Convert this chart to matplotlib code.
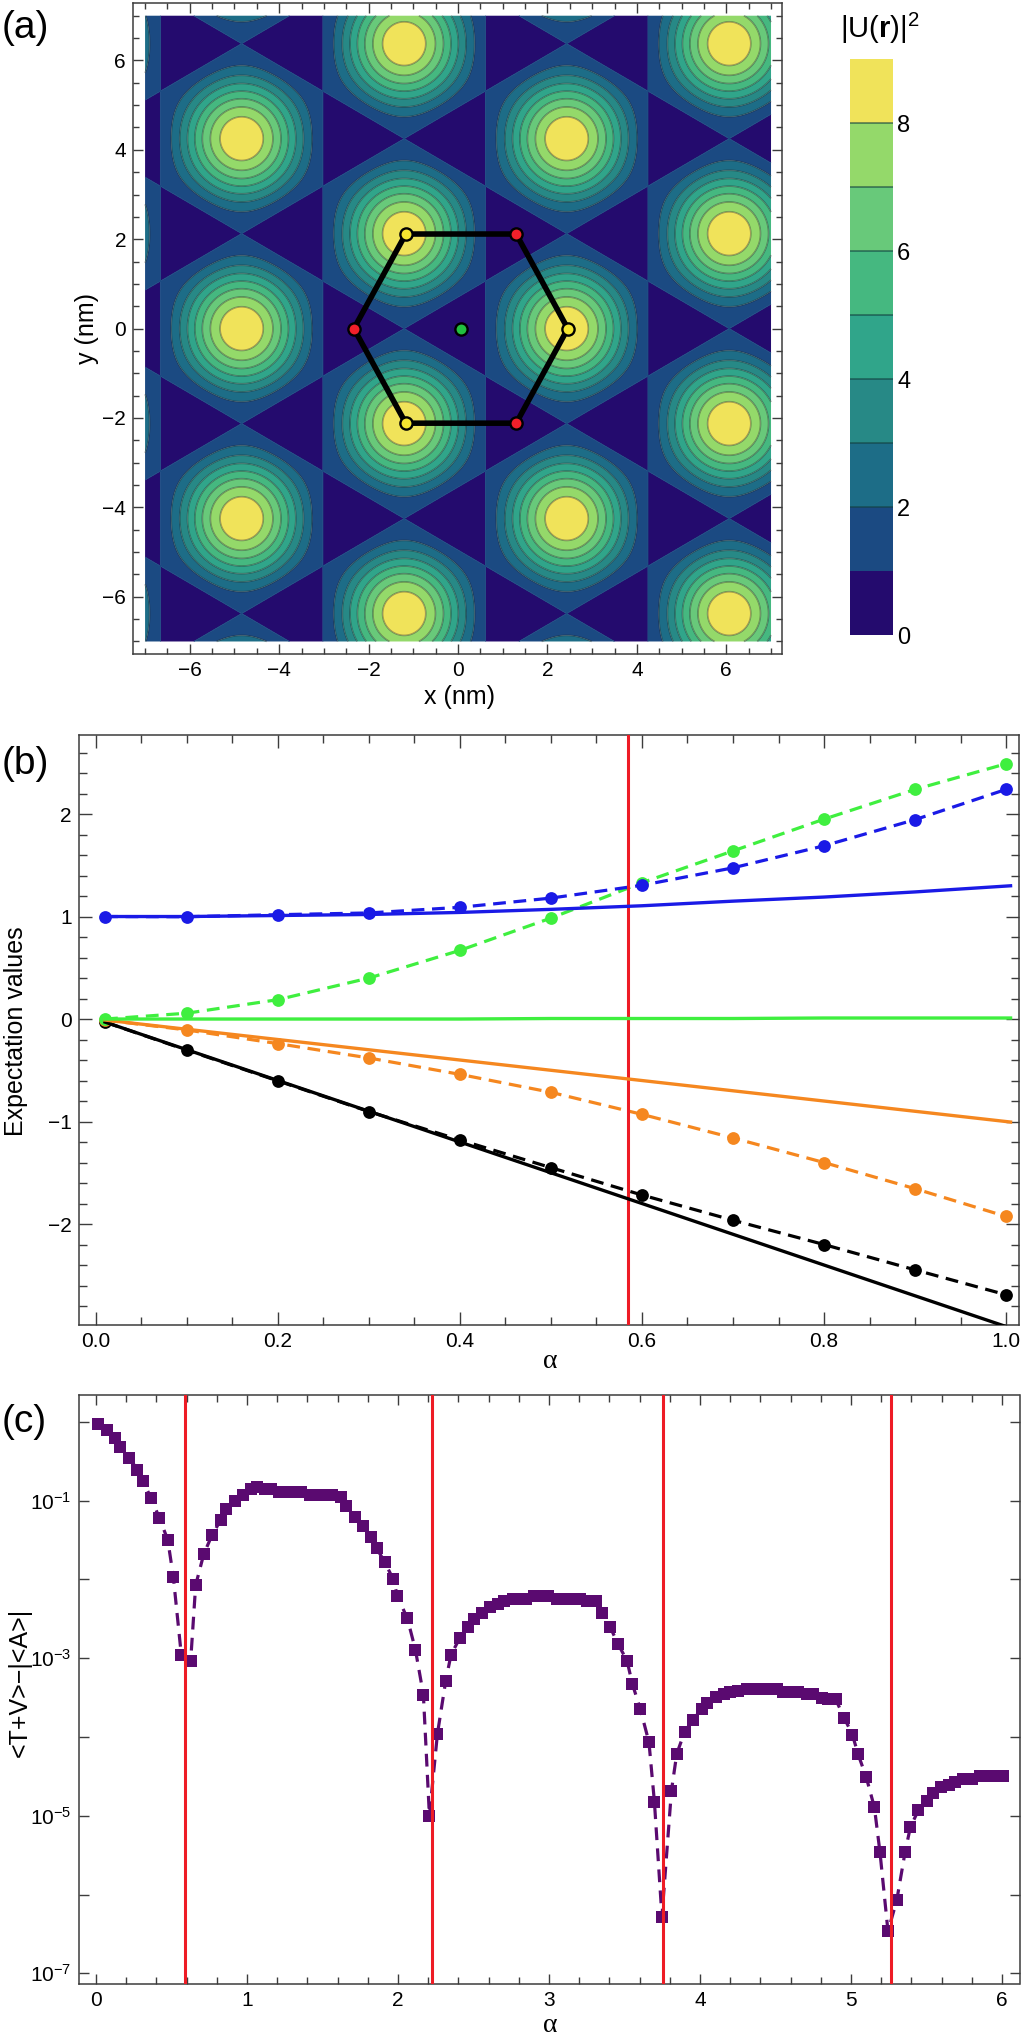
import numpy as np
import matplotlib
matplotlib.use('Agg')
import matplotlib.pyplot as plt
from matplotlib.colors import ListedColormap
from matplotlib.ticker import FixedLocator, NullFormatter, FixedFormatter
from matplotlib.transforms import Affine2D

plt.rcParams['font.family'] = ['Liberation Sans', 'DejaVu Sans']
plt.rcParams['mathtext.fontset'] = 'custom'
plt.rcParams['mathtext.rm'] = 'Liberation Sans'
plt.rcParams['mathtext.it'] = 'Liberation Sans:italic'
plt.rcParams['mathtext.bf'] = 'Liberation Sans:bold'
plt.rcParams['mathtext.default'] = 'regular'

W, H = 1025, 2036
DARK = '#3c3c3c'

# ---------- panel (a): values ----------
level_values = [0, 1, 2, 3, 4, 5, 6, 7, 8, 9]
level_colors = ['#240b6e', '#1b4a82', '#1d6d87', '#278986', '#30a58a',
                '#45b880', '#68c97a', '#94d96a', '#f0e35a']
colorbar_ticks = [0, 2, 4, 6, 8]
peak_x0 = 2.43        # nm, position of the maximum on the x axis
period_x = 3.635      # nm, column spacing of the maxima
period_y = 4.25       # nm, spacing of the maxima within a column
field_half_width = 7.0
hex_x = [2.454, 1.30, -1.17, -2.33, -1.17, 1.30, 2.454]
hex_y = [0.0, 2.116, 2.116, 0.0, -2.116, -2.116, 0.0]
yellow_x = [2.454, -1.17, -1.17]
yellow_y = [0.0, 2.116, -2.116]
red_x = [1.30, -2.33, 1.30]
red_y = [2.116, 0.0, -2.116]
green_x = [0.06]
green_y = [0.0]

# ---------- panel (b) ----------
alpha_b = [0.01, 0.1, 0.2, 0.3, 0.4, 0.5, 0.6, 0.7, 0.8, 0.9, 1.0]
green_dash = [0.0, 0.057, 0.189, 0.40, 0.67, 0.985, 1.33, 1.64, 1.95, 2.24, 2.49]
blue_dash = [1.0, 0.998, 1.018, 1.035, 1.09, 1.18, 1.305, 1.475, 1.69, 1.945, 2.24]
orange_dash = [-0.01, -0.107, -0.24, -0.38, -0.54, -0.715, -0.93, -1.16, -1.40, -1.655, -1.926]
black_dash = [-0.03, -0.304, -0.604, -0.903, -1.18, -1.45, -1.717, -1.963, -2.20, -2.447, -2.69]
alpha_solid = [0.01, 0.1, 0.2, 0.3, 0.4, 0.5, 0.6, 0.7, 0.8, 0.9, 1.005]
blue_solid = [1.0, 1.0, 1.01, 1.02, 1.04, 1.07, 1.105, 1.15, 1.19, 1.24, 1.30]
green_solid = [0.0, 0.0, 0.0, 0.0, 0.0, 0.005, 0.005, 0.005, 0.01, 0.01, 0.01]
orange_solid = [-0.01, -0.1, -0.2, -0.3, -0.4, -0.5, -0.6, -0.7, -0.8, -0.9, -1.005]
black_solid = [-0.03, -0.3, -0.6, -0.9, -1.2, -1.5, -1.8, -2.1, -2.4, -2.7, -3.015]
critical_b = [0.585]

# ---------- panel (c) ----------
alpha_c = [0.015, 0.071, 0.126, 0.161, 0.221, 0.274, 0.309, 0.364, 0.419, 0.475,
           0.512, 0.565, 0.627, 0.660, 0.713, 0.768, 0.826, 0.861, 0.918, 0.973,
           1.024, 1.064, 1.119, 1.157, 1.212, 1.267, 1.307, 1.358, 1.417, 1.472,
           1.517, 1.561, 1.620, 1.656, 1.713, 1.766, 1.823, 1.859, 1.912, 1.969,
           1.996, 2.062, 2.115, 2.168, 2.208, 2.261, 2.316, 2.351, 2.409, 2.464,
           2.504, 2.559, 2.612, 2.665, 2.702, 2.760, 2.808, 2.848, 2.903, 2.941,
           2.996, 3.051, 3.106, 3.157, 3.206, 3.254, 3.311, 3.349, 3.404, 3.457,
           3.517, 3.552, 3.605, 3.662, 3.698, 3.748, 3.811, 3.846, 3.899, 3.954,
           4.011, 4.044, 4.106, 4.159, 4.199, 4.254, 4.309, 4.364, 4.420, 4.475,
           4.512, 4.552, 4.607, 4.651, 4.707, 4.751, 4.806, 4.850, 4.899, 4.954,
           5.009, 5.047, 5.100, 5.155, 5.192, 5.245, 5.303, 5.358, 5.393, 5.446,
           5.501, 5.541, 5.594, 5.649, 5.689, 5.744, 5.799, 5.855, 5.899, 5.943,
           6.005]
log_gap_c = [-0.033, -0.101, -0.211, -0.321, -0.461, -0.609, -0.749, -0.965, -1.219, -1.498,
             -1.968, -2.963, -3.031, -2.074, -1.684, -1.439, -1.248, -1.113, -1.003, -0.935,
             -0.855, -0.825, -0.850, -0.859, -0.888, -0.893, -0.893, -0.897, -0.931, -0.931,
             -0.931, -0.931, -0.960, -1.066, -1.214, -1.324, -1.464, -1.608, -1.781, -2.002,
             -2.213, -2.497, -2.891, -3.462, -4.999, -3.962, -3.289, -2.958, -2.746, -2.607,
             -2.501, -2.425, -2.353, -2.307, -2.281, -2.247, -2.247, -2.247, -2.214, -2.214,
             -2.214, -2.247, -2.247, -2.247, -2.247, -2.281, -2.281, -2.430, -2.603, -2.819,
             -3.035, -3.327, -3.648, -4.067, -4.821, -6.279, -4.681, -4.215, -3.932, -3.784,
             -3.644, -3.568, -3.492, -3.454, -3.428, -3.420, -3.390, -3.390, -3.390, -3.390,
             -3.390, -3.428, -3.428, -3.428, -3.454, -3.454, -3.500, -3.525, -3.525, -3.754,
             -3.970, -4.220, -4.504, -4.893, -5.464, -6.467, -6.074, -5.464, -5.147, -4.931,
             -4.817, -4.715, -4.639, -4.605, -4.567, -4.529, -4.529, -4.499, -4.499, -4.499,
             -4.499]
critical_c = [0.587, 2.223, 3.753, 5.265]
gap_c = [10.0 ** v for v in log_gap_c]
log_all = [1e0, 1e-1, 1e-2, 1e-3, 1e-4, 1e-5, 1e-6, 1e-7]
log_labels = ['', r'$10^{-1}$', '', r'$10^{-3}$', '', r'$10^{-5}$', '', r'$10^{-7}$']

fig = plt.figure(figsize=(W / 100, H / 100), dpi=100, facecolor='white')
px = Affine2D().scale(1 / W, -1 / H).translate(0, 1) + fig.transFigure


def add_axes(left, top, right, bottom):
    return fig.add_axes([left / W, 1 - bottom / H, (right - left) / W, (bottom - top) / H])


def style(ax, maj_len, min_len):
    for s in ax.spines.values():
        s.set_linewidth(1.1)
        s.set_color(DARK)
    ax.tick_params(which='both', direction='in', top=True, right=True,
                   color=DARK, width=1.0, labelsize=15)
    ax.tick_params(which='major', length=maj_len * 0.72, pad=5)
    ax.tick_params(which='minor', length=min_len * 0.72)


def place_labels(ax, xpos, ypos):
    ax.xaxis.set_label_coords(xpos[0], xpos[1], transform=px)
    ax.xaxis.label.set_va('center')
    ax.yaxis.set_label_coords(ypos[0], ypos[1], transform=px)
    ax.yaxis.label.set_va('center')


# ---------- (a) ----------
axa = add_axes(133, 3.2, 782.2, 654)
grid = np.linspace(-field_half_width, field_half_width, 1401)
X, Y = np.meshgrid(grid, grid)
dX = X - peak_x0
field = 3 + 2 * (np.cos(2 * np.pi * dX / period_x)
                 + np.cos(-np.pi * dX / period_x + 2 * np.pi * Y / period_y)
                 + np.cos(-np.pi * dX / period_x - 2 * np.pi * Y / period_y))
cmap = ListedColormap(level_colors)
cf = axa.contourf(X, Y, field, levels=level_values, cmap=cmap, vmin=0, vmax=9,
                  antialiased=True, extend='neither')
axa.contour(X, Y, field, levels=level_values[1:2], colors=[level_colors[1]], linewidths=0.6)
axa.contour(X, Y, field, levels=level_values[2:9], colors='#222222', alpha=0.38, linewidths=1.2)
axa.plot(hex_x, hex_y, color='black', lw=4.0, solid_joinstyle='round', zorder=5)
for xs, ys, c in [(yellow_x, yellow_y, '#f5e530'), (red_x, red_y, '#f0202a'), (green_x, green_y, '#22c040')]:
    axa.plot(xs, ys, ls='none', marker='o', ms=8.8, mfc=c, mec='black', mew=1.7, zorder=6)
axa.set_xlim(-7.27, 7.25)
axa.set_ylim(-7.28, 7.28)
axa.xaxis.set_major_locator(FixedLocator(np.arange(-6, 7, 2)))
axa.yaxis.set_major_locator(FixedLocator(np.arange(-6, 7, 2)))
axa.xaxis.set_minor_locator(FixedLocator(np.arange(-7, 7.01, 0.5)))
axa.yaxis.set_minor_locator(FixedLocator(np.arange(-7, 7.01, 0.5)))
style(axa, 10, 6)
axa.set_xlabel('x (nm)', fontsize=18)
axa.set_ylabel('y (nm)', fontsize=18)
place_labels(axa, (459, 697), (87, 329))

cax = add_axes(850, 59, 893, 635)
cbar = fig.colorbar(cf, cax=cax, ticks=colorbar_ticks)
cbar.outline.set_visible(False)
cax.tick_params(length=0, labelsize=17, pad=3)
cax.hlines(level_values[2:9], 0, 1, transform=cax.get_yaxis_transform(), colors='#123f3f', alpha=0.55, linewidth=1.4)
fig.text(880, 28, r'$|\mathrm{U}(\mathbf{r})|^{2}$', transform=px, fontsize=21, ha='center', va='center')

# ---------- (b) ----------
axb = add_axes(78.5, 735, 1019.3, 1325.2)
dash_b = (0, (4.0, 2.4))
axb.axvline(critical_b[0], color='#ee1c25', lw=2.2, zorder=3)
for vals, c, z in [(black_dash, 'black', 2.1), (orange_dash, '#f5871f', 2.2),
                   (green_dash, '#3fef3f', 2.3), (blue_dash, '#1a1ae6', 2.4)]:
    axb.plot(alpha_b, vals, color=c, lw=2.3, ls=dash_b, marker='o', ms=9.2, mew=0, zorder=z)
for vals, c in [(black_solid, 'black'), (orange_solid, '#f5871f'),
                (blue_solid, '#1a1ae6'), (green_solid, '#3fef3f')]:
    axb.plot(alpha_solid, vals, color=c, lw=2.4, zorder=4)
axb.set_xlim(-0.0192, 1.0146)
axb.set_ylim(-2.987, 2.771)
axb.xaxis.set_major_locator(FixedLocator(np.arange(0, 1.01, 0.2)))
axb.yaxis.set_major_locator(FixedLocator([-2, -1, 0, 1, 2]))
axb.xaxis.set_minor_locator(FixedLocator(np.arange(0, 1.01, 0.05)))
axb.yaxis.set_minor_locator(FixedLocator(np.arange(-2.8, 2.81, 0.2)))
style(axb, 13, 8)
axb.set_xlabel('\u03b1', fontsize=20, family='Liberation Serif')
axb.set_ylabel('Expectation values', fontsize=18)
place_labels(axb, (550, 1362), (16, 1031))

# ---------- (c) ----------
axc = add_axes(78.5, 1394.6, 1019.5, 1983.8)
axc.plot(alpha_c, gap_c, color='#5a0a70', lw=2.3, ls=(0, (4.0, 2.6)), marker='s', ms=8.2, mew=0, zorder=2)
for a in critical_c:
    axc.axvline(a, color='#ee1c25', lw=2.2, zorder=3)
axc.set_yscale('log')
axc.set_xlim(-0.116, 6.116)
axc.set_ylim(10 ** -7.133, 10 ** 0.344)
axc.xaxis.set_major_locator(FixedLocator(np.arange(0, 6.01, 1)))
axc.xaxis.set_minor_locator(FixedLocator(np.arange(0, 6.01, 0.2)))
axc.yaxis.set_major_locator(FixedLocator(log_all))
axc.yaxis.set_minor_locator(FixedLocator([]))
axc.yaxis.set_major_formatter(FixedFormatter(log_labels))
axc.yaxis.set_minor_formatter(NullFormatter())
style(axc, 10, 7)
axc.set_xlabel('\u03b1', fontsize=20, family='Liberation Serif')
axc.set_ylabel('<T+V>\u2212|<A>|', fontsize=18)
place_labels(axc, (550, 2025.6), (20, 1682))

for lab, y in [('(a)', 28), ('(b)', 764), ('(c)', 1422)]:
    fig.text(2, y, lab, transform=px, fontsize=28, ha='left', va='center')

fig.savefig('out.png', dpi=100, facecolor='white')
